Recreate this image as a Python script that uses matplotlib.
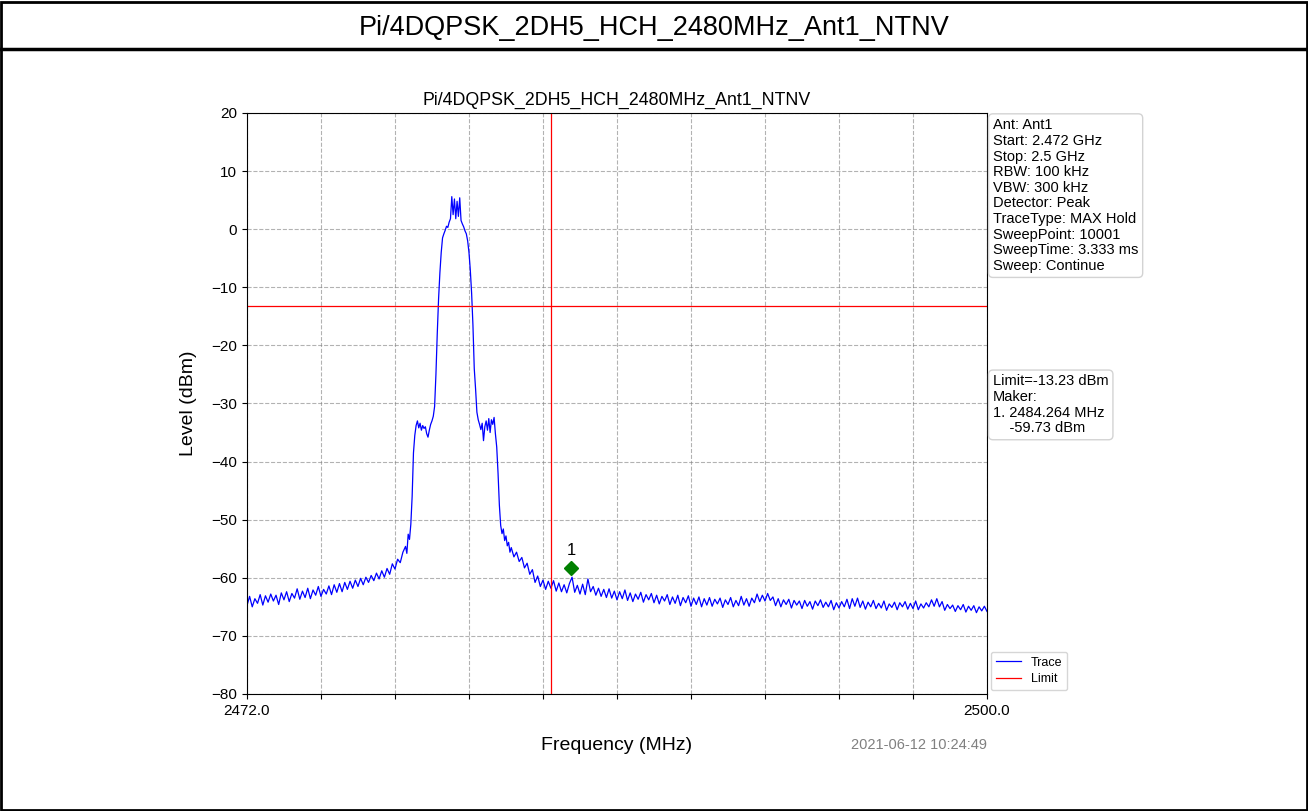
import numpy as np
import matplotlib
matplotlib.use("Agg")
import matplotlib.pyplot as plt
from matplotlib.lines import Line2D
from matplotlib.patches import Rectangle

plt.rcParams['font.family'] = ['Liberation Sans', 'DejaVu Sans']

title = "Pi/4DQPSK_2DH5_HCH_2480MHz_Ant1_NTNV"
start_mhz, stop_mhz = 2472.0, 2500.0
limit_dbm = -13.23
edge_mhz = 2483.5
marker_mhz, marker_dbm = 2484.264, -59.73
timestamp = "2021-06-12 10:24:49"

info_lines = ["Ant: Ant1", "Start: 2.472 GHz", "Stop: 2.5 GHz", "RBW: 100 kHz",
              "VBW: 300 kHz", "Detector: Peak", "TraceType: MAX Hold",
              "SweepPoint: 10001", "SweepTime: 3.333 ms", "Sweep: Continue"]
marker_lines = ["Limit=-13.23 dBm", "Maker:", "1. 2484.264 MHz", "    -59.73 dBm"]

# trace: 2472.0-2477.9 MHz, 0.1 MHz step
lvl_low = [-64.8, -63.2, -65.0, -63.6, -64.4, -62.9, -64.7, -63.1, -64.2, -62.8,
           -64.0, -63.0, -64.6, -62.6, -63.8, -62.4, -64.1, -62.7, -63.5, -61.9,
           -63.7, -62.3, -63.4, -61.8, -63.6, -62.1, -63.0, -61.5, -63.2, -62.0,
           -62.8, -61.4, -62.9, -61.2, -62.5, -61.0, -62.4, -60.8, -62.0, -60.6,
           -61.8, -60.4, -61.5, -60.1, -61.2, -59.9, -60.8, -59.6, -60.5, -59.2,
           -60.2, -58.8, -59.9, -58.4, -59.4, -57.6, -58.5, -56.8, -57.4, -55.6]
# 2478.00-2481.95 MHz, 0.05 MHz step
lvl_band = [-54.6, -55.8, -52.5, -53.4, -50.8, -46.0, -38.5, -35.5, -33.8, -33.0,
            -34.2, -33.4, -34.6, -33.8, -34.3, -34.0, -35.2, -35.8, -34.6, -33.6,
            -33.0, -32.2, -30.5, -25.0, -18.0, -12.0, -7.5, -4.0, -1.5, -0.8,
            -0.2, 0.5, 0.3, 1.2, 1.8, 5.6, 2.5, 5.2, 1.8, 4.8,
            2.2, 5.4, 1.5, 0.9, 0.4, -0.3, -0.8, -2.0, -4.0, -7.0,
            -11.0, -16.5, -24.0, -27.5, -31.5, -32.8, -33.6, -34.5, -33.4, -36.4,
            -34.0, -33.0, -34.6, -32.6, -35.0, -32.8, -33.6, -32.4, -35.2, -37.5,
            -42.0, -47.5, -51.0, -52.4, -51.6, -53.6, -52.8, -54.5, -53.9, -55.6]
# 2482.0-2500.0 MHz, 0.1 MHz step
lvl_high = [-54.8, -56.4, -55.6, -57.2, -56.5, -58.3, -57.5, -59.4, -58.6, -60.8,
            -59.7, -61.5, -60.4, -62.0, -60.6, -61.8, -60.5, -62.3, -60.9, -62.4,
            -61.2, -62.6, -61.0, -59.9, -62.5, -61.3, -62.8, -61.1, -62.9, -60.2,
            -62.4, -61.5, -63.0, -61.8, -63.2, -62.0, -63.4, -61.9, -63.5, -62.3,
            -63.8, -62.4, -63.6, -62.1, -63.9, -62.6, -64.1, -62.8, -63.7, -62.5,
            -64.2, -62.9, -63.8, -62.7, -64.3, -63.0, -64.5, -63.2, -64.0, -62.9,
            -64.6, -63.3, -64.4, -63.0, -64.8, -63.4, -64.3, -63.1, -64.9, -63.5,
            -64.6, -63.3, -65.0, -63.6, -64.7, -63.4, -64.9, -63.7, -64.5, -63.5,
            -65.1, -63.8, -64.6, -63.4, -65.0, -63.9, -64.8, -63.2, -64.7, -63.6,
            -64.9, -63.5, -64.3, -62.8, -64.1, -63.0, -64.0, -62.7, -63.9, -63.3,
            -64.8, -63.6, -65.0, -63.8, -64.6, -63.7, -65.2, -63.9, -64.7, -64.0,
            -65.3, -63.9, -64.9, -64.1, -65.4, -64.0, -64.8, -63.8, -65.1, -64.2,
            -65.0, -63.9, -65.5, -64.3, -65.2, -64.1, -65.0, -63.7, -65.3, -63.6,
            -64.9, -63.5, -65.1, -64.0, -65.4, -64.2, -65.0, -63.9, -65.3, -64.4,
            -65.2, -64.0, -65.6, -64.5, -65.1, -64.2, -65.5, -64.3, -65.0, -64.1,
            -65.4, -64.4, -65.3, -64.0, -65.5, -64.5, -65.2, -64.3, -65.0, -63.8,
            -64.9, -63.6, -65.0, -64.1, -65.6, -64.6, -65.3, -64.7, -65.8, -64.8,
            -65.5, -64.6, -65.9, -64.9, -65.6, -64.8, -66.0, -65.0, -65.7, -64.9,
            -65.8]

freq = np.concatenate([np.linspace(2472.0, 2477.9, len(lvl_low)),
                       np.linspace(2478.0, 2481.95, len(lvl_band)),
                       np.linspace(2482.0, 2500.0, len(lvl_high))])
level = np.array(lvl_low + lvl_band + lvl_high)

fig = plt.figure(figsize=(13.08, 8.11), dpi=100)
fig.patches.append(Rectangle((0.001, 0.001), 0.998, 0.997, transform=fig.transFigure,
                             fill=False, edgecolor='black', linewidth=2))
fig.add_artist(Line2D([0, 1], [0.9396, 0.9396], transform=fig.transFigure,
                      color='black', linewidth=2.5))
fig.text(0.5, 0.965, title, ha='center', va='center', fontsize=19.5)

ax = fig.add_axes([0.1888, 0.1443, 0.5658, 0.7164])
ax.plot(freq, level, color='blue', linewidth=0.9, label='Trace')
ax.axhline(limit_dbm, color='red', linewidth=0.9, label='Limit')
ax.axvline(edge_mhz, color='red', linewidth=0.9)
ax.plot(marker_mhz, marker_dbm + 1.4, marker='D', color='green', markersize=7)
ax.text(marker_mhz, marker_dbm + 3.2, "1", ha='center', va='bottom', fontsize=12)

ax.set_xlim(start_mhz, stop_mhz)
ax.set_ylim(-80, 20)
ax.set_xticks(np.linspace(start_mhz, stop_mhz, 11))
ax.set_xticklabels(["2472.0"] + [""] * 9 + ["2500.0"])
ax.set_yticks(np.arange(-80, 21, 10))
ax.tick_params(labelsize=11)
ax.grid(True, linestyle='--', color='gray', alpha=0.6)
ax.set_title(title, fontsize=12.8)
ax.set_xlabel("Frequency (MHz)", fontsize=14, labelpad=14)
ax.set_ylabel("Level (dBm)", fontsize=14, labelpad=10)
ax.legend(loc='lower left', bbox_to_anchor=(1.0, 0.0), fontsize=9,
          borderaxespad=0.3, labelspacing=0.35)

box = dict(boxstyle='round,pad=0.3', facecolor='white', edgecolor='lightgray')
ax.text(1.008, 0.991, "\n".join(info_lines), transform=ax.transAxes, va='top', ha='left',
        fontsize=10.5, linespacing=1.15, bbox=box)
ax.text(1.008, 0.55, "\n".join(marker_lines), transform=ax.transAxes, va='top', ha='left',
        fontsize=10.5, linespacing=1.15, bbox=box)
fig.text(0.7546, 0.081, timestamp, ha='right', va='center', fontsize=10.5, color='gray')

fig.savefig("out.png", dpi=100)
